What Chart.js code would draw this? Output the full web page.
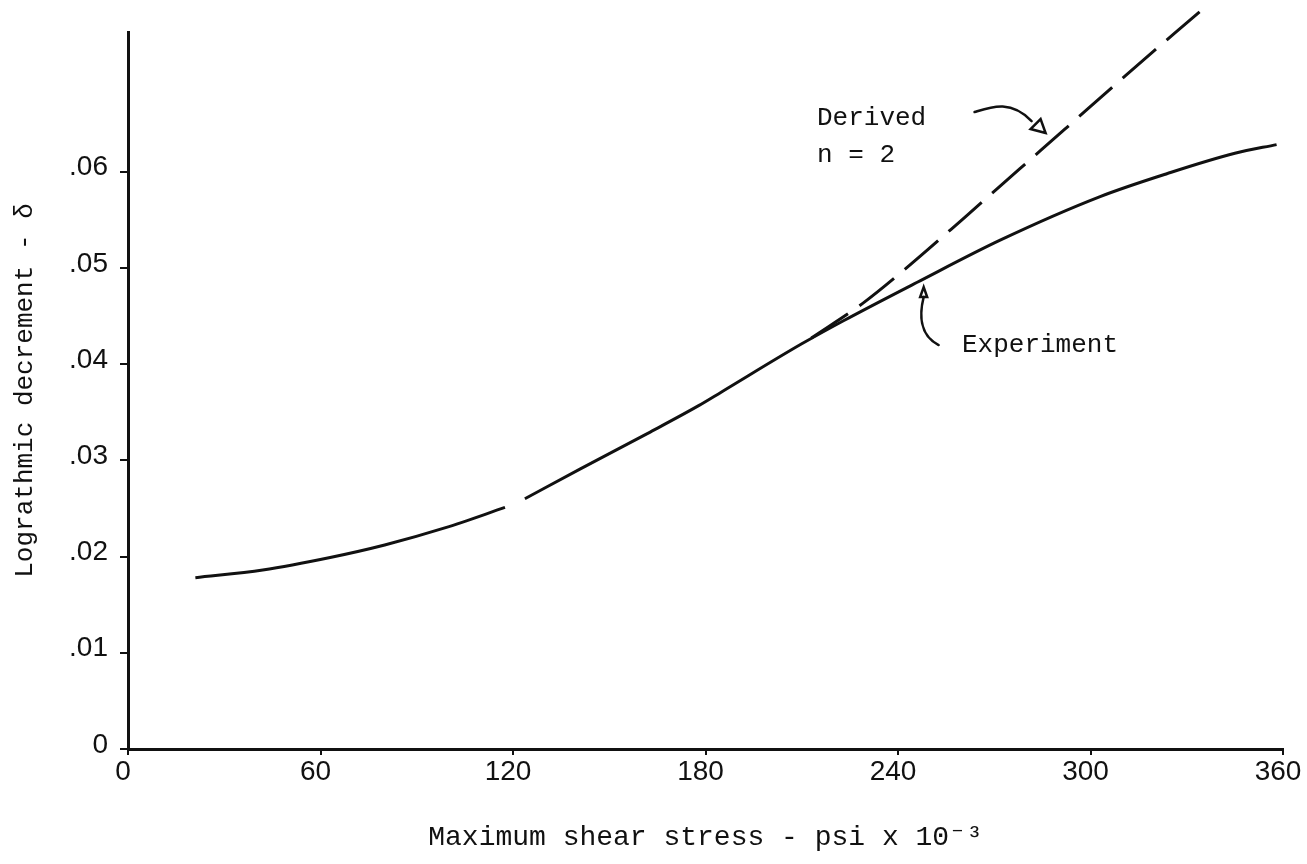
<!DOCTYPE html>
<html>
<head>
<meta charset="utf-8">
<title>Logarithmic decrement vs maximum shear stress</title>
<script src="https://cdn.jsdelivr.net/npm/chart.js@4/dist/chart.umd.min.js"></script>
<style>
  html, body { margin: 0; padding: 0; background: #fff; }
  #wrap { position: relative; width: 1307px; height: 864px; overflow: hidden; }
  canvas { display: block; }
  .note {
    position: absolute;
    font-family: "Liberation Mono", "DejaVu Sans Mono", monospace;
    font-size: 26px;
    line-height: 1;
    color: #111;
    white-space: nowrap;
  }
</style>
</head>
<body>
<div id="wrap">
  <canvas id="chart" width="1307" height="864"></canvas>
  <div class="note" style="left:817px; top:105px;">Derived</div>
  <div class="note" style="left:817px; top:142px;">n = 2</div>
  <div class="note" style="left:962px; top:332px;">Experiment</div>
</div>
<script>
// values (x = stress in ksi, y = log decrement)
const expStress = [21, 42, 63, 80, 99, 117.5, 120.5, 123.7, 141, 162, 178, 185, 210, 223, 246, 272, 303, 324, 345, 358];
const expDelta = [0.0178, 0.0186, 0.0199, 0.0212, 0.0230, 0.0251, null, 0.0260, 0.0291, 0.0328, 0.0357, 0.0371, 0.0421, 0.0445, 0.0485, 0.0529, 0.0574, 0.0598, 0.0619, 0.0628];

const derivedStress = [213, 229, 242, 261, 278, 292, 311, 334];
const derivedDelta = [0.0427, 0.0463, 0.0498, 0.0553, 0.0603, 0.0644, 0.0700, 0.0766];

const xTicks = [0, 60, 120, 180, 240, 300, 360];
const yTicks = [0, 0.01, 0.02, 0.03, 0.04, 0.05, 0.06];

const INK = "#111";
const monoFont = '"Liberation Mono", "DejaVu Sans Mono", monospace';
const tickFont = '"Liberation Sans", "DejaVu Sans", sans-serif';

const toPoints = (xs, ys) => xs.map((x, i) => ({ x, y: ys[i] }));

function yLabel(value) {
  if (value === 0) return "0";
  return "." + String(Math.round(value * 100)).padStart(2, "0");
}

// hand-drawn pointer arrows, anchored to a point on the curves
const arrowPlugin = {
  id: "arrows",
  afterDatasetsDraw(chart) {
    const { ctx, scales } = chart;
    const x = scales.x, y = scales.y;
    ctx.save();
    ctx.strokeStyle = INK;
    ctx.lineWidth = 2.5;
    ctx.lineCap = "round";

    // "Derived" arrow, tip just left of the dashed line
    let tx = x.getPixelForValue(286), ty = y.getPixelForValue(0.064);
    ctx.beginPath();
    ctx.moveTo(tx - 71, ty - 21);
    ctx.bezierCurveTo(tx - 55, ty - 26, tx - 35, ty - 34, tx - 14, ty - 12);
    ctx.stroke();
    ctx.beginPath();
    ctx.moveTo(tx, ty);
    ctx.lineTo(tx - 15, ty - 4);
    ctx.lineTo(tx - 5, ty - 14);
    ctx.closePath();
    ctx.stroke();

    // "Experiment" arrow, tip just under the solid line
    tx = x.getPixelForValue(248);
    ty = y.getPixelForValue(0.048);
    ctx.beginPath();
    ctx.moveTo(tx, ty + 10);
    ctx.bezierCurveTo(tx - 4, ty + 26, tx - 5, ty + 48, tx + 15, ty + 58);
    ctx.stroke();
    ctx.beginPath();
    ctx.moveTo(tx, ty);
    ctx.lineTo(tx - 3.5, ty + 10);
    ctx.lineTo(tx + 3.5, ty + 10);
    ctx.closePath();
    ctx.stroke();
    ctx.restore();
  },
};

new Chart(document.getElementById("chart"), {
  type: "line",
  data: {
    datasets: [
      {
        label: "Experiment",
        data: toPoints(expStress, expDelta),
        borderColor: INK,
        borderWidth: 3,
        pointRadius: 0,
        fill: false,
        spanGaps: false,
        cubicInterpolationMode: "monotone",
      },
      {
        label: "Derived n = 2",
        data: toPoints(derivedStress, derivedDelta),
        borderColor: INK,
        borderWidth: 3,
        borderDash: [44, 14],
        pointRadius: 0,
        fill: false,
        clip: false,
        cubicInterpolationMode: "monotone",
      },
    ],
  },
  options: {
    responsive: false,
    animation: false,
    events: [],
    layout: { padding: { left: 0, right: 24, top: 32, bottom: 0 } },
    plugins: { legend: { display: false }, tooltip: { enabled: false } },
    scales: {
      x: {
        type: "linear",
        min: 0,
        max: 360,
        afterFit: (scale) => { scale.height = 115; },
        afterBuildTicks: (scale) => { scale.ticks = xTicks.map((v) => ({ value: v })); },
        border: { display: true, color: INK, width: 3 },
        grid: { drawOnChartArea: false, drawTicks: true, tickLength: 6, color: INK, lineWidth: 2 },
        ticks: {
          color: INK,
          padding: 0,
          labelOffset: -5,
          maxRotation: 0,
          font: { family: tickFont, size: 28 },
        },
        title: {
          display: true,
          text: "Maximum shear stress - psi x 10⁻³",
          color: INK,
          font: { family: monoFont, size: 28 },
          padding: { top: 0, bottom: 10 },
        },
      },
      y: {
        type: "linear",
        min: 0,
        max: 0.0745,
        afterFit: (scale) => { scale.width = 128; },
        afterBuildTicks: (scale) => { scale.ticks = yTicks.map((v) => ({ value: v })); },
        border: { display: true, color: INK, width: 3 },
        grid: { drawOnChartArea: false, drawTicks: true, tickLength: 8, color: INK, lineWidth: 2 },
        ticks: {
          color: INK,
          padding: 12,
          labelOffset: -4,
          callback: (value) => yLabel(value),
          font: { family: tickFont, size: 28 },
        },
        title: {
          display: true,
          text: "Lograthmic decrement - δ",
          color: INK,
          font: { family: monoFont, size: 26 },
          padding: { top: 10, bottom: 0 },
        },
      },
    },
  },
  plugins: [arrowPlugin],
});
</script>
</body>
</html>
